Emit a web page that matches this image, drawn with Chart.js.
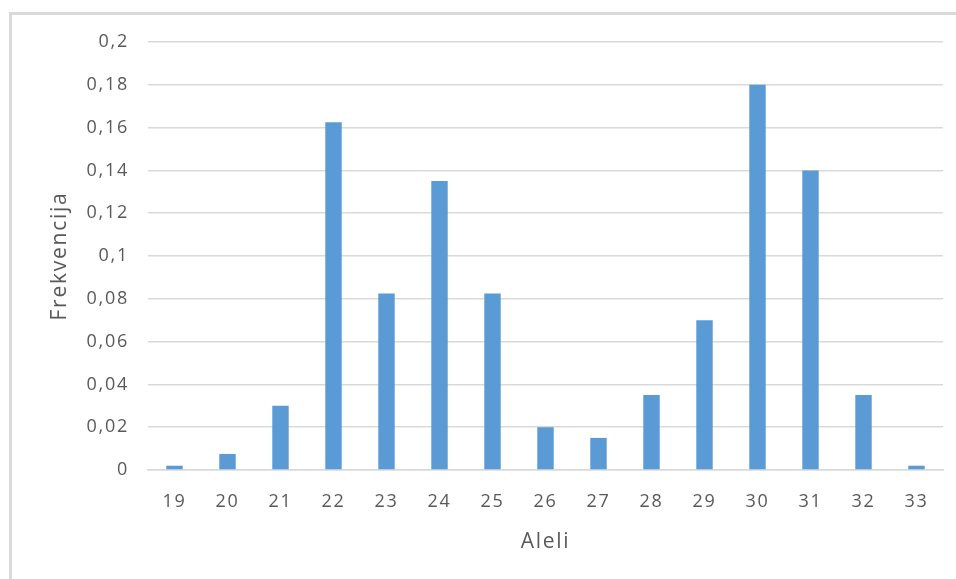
<!DOCTYPE html>
<html>
<head>
<meta charset="utf-8">
<script src="https://cdn.jsdelivr.net/npm/chart.js@4/dist/chart.umd.min.js"></script>
<style>
  html, body { margin: 0; padding: 0; background: #ffffff; }
  #wrap { position: relative; width: 956px; height: 579px; }
</style>
</head>
<body>
<div id="wrap"><canvas id="c" width="956" height="579"></canvas></div>
<script>
// Allele frequencies
const alleles = ['19', '20', '21', '22', '23', '24', '25', '26', '27', '28', '29', '30', '31', '32', '33'];
const frequencies = [0.002, 0.0075, 0.03, 0.1625, 0.0825, 0.135, 0.0825, 0.02, 0.015, 0.035, 0.07, 0.18, 0.14, 0.035, 0.002];
const yMin = 0;
const yMax = 0.2;
const yStep = 0.02;
const xTitle = 'Aleli';
const yTitle = 'Frekvencija';

const textColor = '#595959';
const gridColor = '#d9d9d9';
const barColor = '#5b9bd5';
const fontFamily = "'Open Sans', 'Noto Sans', sans-serif";

// light frame around the chart area, plus wider glyph spacing
const framePlugin = {
  id: 'frame',
  beforeDraw(chart) {
    const ctx = chart.ctx;
    ctx.save();
    ctx.fillStyle = '#ffffff';
    ctx.fillRect(0, 0, chart.width, chart.height);
    ctx.fillStyle = '#dadada';
    ctx.fillRect(9, 12, chart.width, 3);
    ctx.fillRect(9, 12, 3, chart.height);
    ctx.restore();
    if ('letterSpacing' in ctx) ctx.letterSpacing = '1.75px';
  }
};

new Chart(document.getElementById('c'), {
  type: 'bar',
  data: {
    labels: alleles,
    datasets: [{
      data: frequencies,
      backgroundColor: barColor,
      borderWidth: 0,
      categoryPercentage: 1,
      barPercentage: 0.31
    }]
  },
  options: {
    responsive: false,
    animation: false,
    devicePixelRatio: 1,
    layout: { padding: { left: 0, top: 42, right: 13, bottom: 0 } },
    plugins: {
      legend: { display: false },
      tooltip: { enabled: false }
    },
    scales: {
      x: {
        grid: { display: false, drawTicks: false },
        border: { display: true, color: gridColor, width: 1.5 },
        ticks: {
          color: textColor,
          font: { family: fontFamily, size: 18 },
          padding: 21,
          maxRotation: 0
        },
        title: {
          display: true,
          text: xTitle,
          color: textColor,
          font: { family: fontFamily, size: 21 },
          padding: { top: 0, bottom: 24 }
        },
        afterFit(scale) { scale.height = 109; }
      },
      y: {
        min: yMin,
        max: yMax,
        grid: { color: gridColor, lineWidth: 1.5, drawTicks: false },
        border: { display: false },
        ticks: {
          stepSize: yStep,
          color: textColor,
          font: { family: fontFamily, size: 18 },
          padding: 19,
          callback(v) { return String(Math.round(v * 100) / 100).replace('.', ','); }
        },
        title: {
          display: true,
          text: yTitle,
          color: textColor,
          font: { family: fontFamily, size: 21 },
          padding: { top: 47, bottom: 0 }
        },
        afterFit(scale) { scale.width = 148; }
      }
    }
  },
  plugins: [framePlugin]
});
</script>
</body>
</html>
